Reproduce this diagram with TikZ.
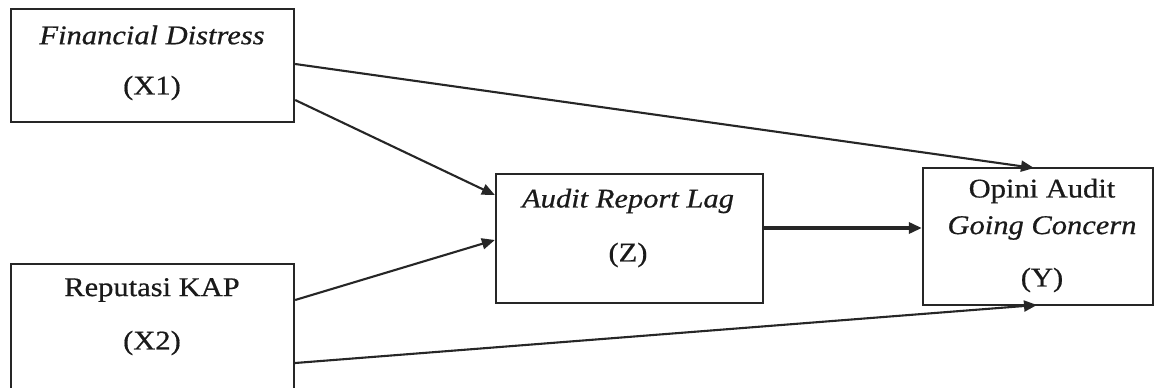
\documentclass[tikz,border=0pt]{standalone}
\usepackage{fontspec}
\setmainfont[FakeStretch=1.13,FakeBold=0.6]{Liberation Serif}
\usetikzlibrary{arrows.meta}
\definecolor{ink}{HTML}{262626}
\definecolor{txt}{HTML}{1A1A1A}
\tikzset{
  box/.style={draw=ink, line width=2.3pt, rectangle, inner sep=0pt},
  lbl/.style={text=txt, font=\fontsize{27}{30}\selectfont, inner sep=0pt, anchor=center},
  conn/.style={draw=ink, line width=2.1pt, -{Triangle[length=13pt,width=11pt]}},
  thick conn/.style={draw=ink, line width=3.2pt, -{Triangle[length=13pt,width=11pt]}}
}
\begin{document}
\begin{tikzpicture}[x=1pt,y=-1pt]
\useasboundingbox (0,0) rectangle (1156,388);
\clip (0,0) rectangle (1156,388);
\fill[white] (0,0) rectangle (1156,388);
% boxes
\node[box, minimum width=283pt, minimum height=113pt] (x1) at (152.5,65.5) {};
\node[box, minimum width=283pt, minimum height=136pt] (x2) at (152.5,332) {};
\node[box, minimum width=267pt, minimum height=129pt] (z) at (629.5,238.5) {};
\node[box, minimum width=230pt, minimum height=137pt] (y) at (1038,236.5) {};
% texts
\node[lbl] (t1a) at (152,35) {\itshape Financial Distress};
\node[lbl] (t1b) at (152,88) {(X1)};
\node[lbl] (t2a) at (152,290) {Reputasi KAP};
\node[lbl] (t2b) at (152,343) {(X2)};
\node[lbl] (tza) at (628,201) {\itshape Audit Report Lag};
\node[lbl] (tzb) at (628,255) {(Z)};
\node[lbl] (tya) at (1042,191) {Opini Audit};
\node[lbl] (tyb) at (1042,228) {\itshape Going Concern};
\node[lbl] (tyc) at (1042,280) {(Y)};
% connector end points on box edges
\coordinate (s1) at (x1.east |- 0,64);
\coordinate (s2) at (x1.east |- 0,100);
\coordinate (s3) at (x2.east |- 0,300);
\coordinate (s4) at (x2.east |- 0,363);
\coordinate (e1) at (1034,168);
\coordinate (e2) at (z.west |- 0,195);
\coordinate (e3) at (z.west |- 0,240);
\coordinate (e4) at (1037,305);
\coordinate (m1) at (z.east |- 0,228);
\coordinate (m2) at (y.west |- 0,228);
% connectors
\draw[conn] (s1) -- (e1);
\draw[conn] (s2) -- (e2);
\draw[conn] (s3) -- (e3);
\draw[conn] (s4) -- (e4);
\draw[thick conn] (m1) -- (m2);
\end{tikzpicture}
\end{document}
